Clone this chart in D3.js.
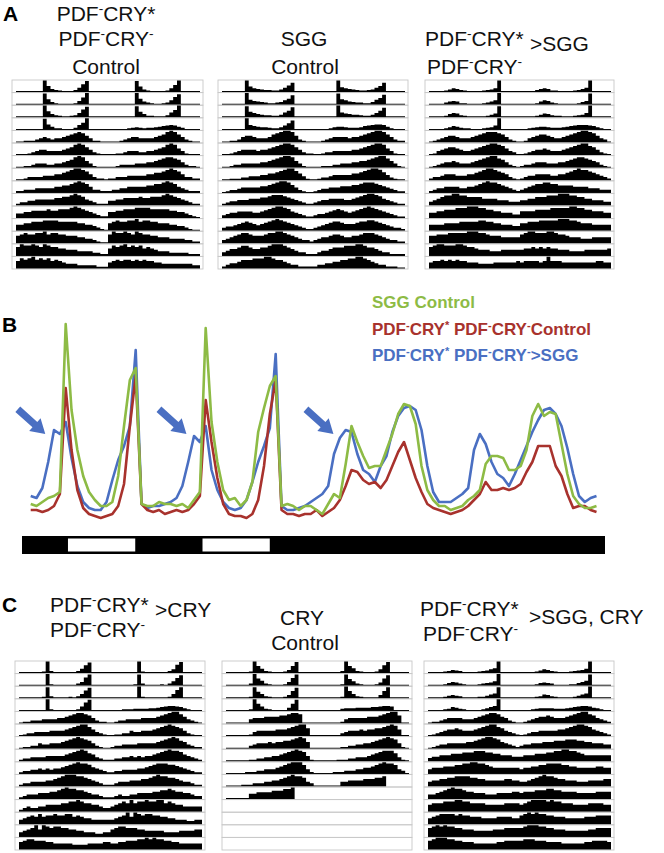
<!DOCTYPE html>
<html>
<head>
<meta charset="utf-8">
<script src="https://cdn.jsdelivr.net/npm/d3@7"></script>
<style>
  body { margin: 0; background: #fff; }
  svg { display: block; font-family: "Liberation Sans", Arial, sans-serif; }
</style>
</head>
<body>
<svg id="fig" width="664" height="853"></svg>
<script>
// ---- panel B: hourly activity (hours relative to lights-on of day 1) ----
const hours = d3.range(-6, 92);
const sggControl = [
  9, 8, 10, 12, 13, 15,
  99, 56, 36, 23, 15, 11, 8, 8, 10, 23, 48, 71, 77,
  9, 8, 8, 10, 9, 9, 8, 9, 7, 11, 15,
  97, 50, 30, 16, 11, 12, 8, 11, 20, 45, 57, 68, 73,
  8, 9, 8, 6, 8, 8, 6, 4, 9, 14, 12,
  29, 48, 40, 33, 27, 28, 28, 36, 44, 54, 59, 58, 49,
  28, 16, 11, 8, 8, 6, 7, 8, 11, 13, 16,
  29, 33, 33, 32, 26, 26, 28, 36, 53, 59, 53, 55, 54,
  39, 24, 13, 9, 7, 7, 8
];
const pdfControl = [
  6, 6, 5, 6, 8, 14,
  67, 36, 16, 7, 4, 3, 2, 3, 4, 8, 19, 48, 73,
  9, 6, 5, 6, 4, 5, 6, 5, 6, 9, 13,
  61, 40, 22, 9, 4, 3, 3, 2, 4, 11, 28, 54, 71,
  6, 4, 4, 3, 4, 4, 6, 3, 5, 7, 11,
  18, 26, 25, 21, 19, 20, 17, 21, 28, 35, 40, 31, 22,
  15, 9, 7, 6, 5, 4, 5, 6, 8, 11, 14,
  20, 16, 16, 17, 16, 17, 19, 25, 30, 38, 38, 38, 28,
  23, 14, 7, 8, 8, 6, 5
];
const pdfSgg = [
  13, 12, 17, 30, 46, 44,
  50, 32, 18, 10, 7, 6, 6, 10, 21, 31, 38, 48, 86,
  9, 7, 8, 8, 9, 10, 12, 18, 30, 43, 40,
  48, 26, 16, 10, 7, 6, 7, 11, 20, 30, 38, 47, 84,
  8, 6, 6, 7, 8, 10, 12, 14, 18, 34, 42,
  46, 45, 34, 26, 24, 20, 28, 33, 45, 53, 57, 58, 56,
  46, 28, 15, 10, 10, 10, 12, 14, 17, 36, 44,
  39, 30, 24, 22, 18, 24, 31, 38, 45, 51, 56, 57, 54,
  48, 37, 24, 13, 10, 12, 13
];
const arrowHours = [-3.5, 20.7, 45.9];
const arrowValues = [44, 44, 44];
const recording = [-8.2, 95.8];          // ZT hours covered by the LD bar
const lightPhases = [[0, 12], [24, 36]];   // lights on

// ---- actograms: one string per day, 24 hourly bins from ZT17, base-36 counts, '.' = no data ----
const a1Days = [
  "0001011ka53211137dj10010", "0010011j942111126ck01001", "0001001ka53211237di10100",
  "1000101j952211138ck01010", "001112343233456787531100", "000123443333456898642100",
  "001123332233456898531000", "001222233344567887642110", "112223333344556787642211",
  "122334444455667876432111", "334455556556667876543211", "445566677776666655443210",
  "567667786776655544332100", "687787687665544433332211", "576786767565433322222111",
  "456566565655443333333322"
];
const a2Days = [
  "000101k9654332247bg00100", "001000k8654322347ag01000", "000010j9754332248bh00010",
  "010001k8654432247bg00100", "001124554333467899852100", "001234444344567899864211",
  "001223333344567899853100", "001112233344556789975310", "012234444455678998642100",
  "123344455566788876543211", "234455554456789987543211", "233456765456789876543211",
  "234567765556778876543221", "234456654455677765432211", "123345556667765543221111",
  "122334455667765432211100"
];
const a3Days = [
  "000124653211112346k00000", "001135652211112357k00010", "000125763211111246j00000",
  "000124653221112347k00100", "012345543334567888764210", "013456654334567899875320",
  "012344543334567899764210", "122344433344567887654210", "123344443344567877654321",
  "234566776655554444333222", "334455566677766554433322", "444455556666677665544433",
  "556667777788877655544444", "678877788766544433344444", "455656565544433334444445",
  "455554585554444444445544"
];
const c1Days = [
  "0001012k311111137di01000", "0010011k211111136ej00100", "0001012j311112137di00010",
  "0100011k211111127ej01000", "011222333344567887642110", "012233334444567899753210",
  "011224334445678987642100", "122333344444567898653211", "122334343445678988754321",
  "122333344567888776543211", "123334445567877665433211", "123223344445566765544322",
  "345657566766775654433333", "345685876776655443332233", "567766655444443333444455",
  "445566677878776655444444"
];
const c2Days = [
  "0000012kc73211125cj00000", "0000013kc83211126dj00000", "0000002jb73211125ci00000",
  "0000012kc73211115cj00000", "000000344455556678870000", "000000134444455567899600",
  "000000234445455667898500", "000000112233445678987410", "000001112233345678886310",
  "000011122233445678776320", "000000334444555667......", "........................",
  "........................", "........................", "........................",
  "........................"
];
const c3Days = [
  "000123543111123468k00000", "001124653211123457k00000", "000124543111122468j00010",
  "000123653211112468k00000", "011234444333456788754210", "012345565444567899764321",
  "012334444455678998754321", "233444555666777665544433", "344455566778877654444444",
  "344556677776655444445544", "334567877655444333444455", "455566677665555444445555",
  "456777767665554444555544", "678787766555444445556666", "678887766555444444556666",
  "677766655554444445566665"
];

const GREEN = "#8dbb45", RED = "#a8322d", BLUE = "#4a6fc2";
const svg = d3.select("#fig");

// ---------- text helper: parts starting with '^' are superscripts ----------
function richText(g, x, y, parts, opts) {
  const size = opts.size;
  const t = g.append("text")
    .attr("x", x).attr("y", y)
    .attr("text-anchor", opts.anchor || "start")
    .attr("fill", opts.color || "#111")
    .style("font-size", size + "px")
    .style("font-weight", opts.bold ? "bold" : "normal");
  let up = false;
  parts.forEach(p => {
    const sup = p[0] === "^";
    const s = t.append("tspan").text(sup ? p.slice(1) : p);
    if (sup) {
      s.style("font-size", (size * 0.65) + "px");
      if (!up) { s.attr("dy", -size * 0.38); up = true; }
    } else if (up) {
      s.attr("dy", size * 0.38); up = false;
    }
  });
  return t;
}

// ---------- actograms ----------
const ROW_H = 12.6, N_ROWS = 15, PEAK_H = 11.3;
const actograms = [
  { days: a1Days, x0: 12, x1: 203, y0: 80 },
  { days: a2Days, x0: 218, x1: 408, y0: 80 },
  { days: a3Days, x0: 425, x1: 614, y0: 80 },
  { days: c1Days, x0: 15, x1: 205, y0: 661 },
  { days: c2Days, x0: 222, x1: 412, y0: 661 },
  { days: c3Days, x0: 424, x1: 614, y0: 661 }
];

actograms.forEach(box => {
  const g = svg.append("g");
  const parsed = box.days.map(s => s.padEnd(24, ".").slice(0, 24).split("")
    .map(c => c === "." ? null : parseInt(c, 36)));
  const x = d3.scaleLinear().domain([0, 48]).range([box.x0 + 4, box.x1 - 3]);

  for (let r = 0; r < N_ROWS; r++) {
    const top = box.y0 + r * ROW_H;
    const base = top + ROW_H - 0.9;
    g.append("rect")
      .attr("x", box.x0).attr("y", top)
      .attr("width", box.x1 - box.x0).attr("height", ROW_H)
      .attr("fill", "none").attr("stroke", "#c8c8c8").attr("stroke-width", 0.9);

    // double plot: day r on the left, day r+1 on the right
    const vals = parsed[r].concat(parsed[r + 1]);
    const max = d3.max(vals) || 1;
    const y = d3.scaleLinear().domain([0, max]).range([base, base - PEAK_H]);
    const pts = vals.flatMap((v, i) => [{ t: i, v }, { t: i + 1, v }]);
    const area = d3.area()
      .defined(d => d.v !== null)
      .x(d => x(d.t))
      .y0(base + 0.5)
      .y1(d => Math.min(y(d.v), base - 0.6));
    g.append("path").datum(pts).attr("d", area).attr("fill", "#000");
  }
});

// ---------- titles ----------
const T = 21;
const titles = [
  { x: 106, y: 21, a: "middle", p: ["PDF", "^-", "CRY*"] },
  { x: 106, y: 46, a: "middle", p: ["PDF", "^-", "CRY", "^-"] },
  { x: 106, y: 74, a: "middle", p: ["Control"] },
  { x: 304, y: 46, a: "middle", p: ["SGG"] },
  { x: 305, y: 74, a: "middle", p: ["Control"] },
  { x: 425, y: 46, a: "start", p: ["PDF", "^-", "CRY*"] },
  { x: 530, y: 51, a: "start", p: [">SGG"] },
  { x: 427, y: 74, a: "start", p: ["PDF", "^-", "CRY", "^-"] },
  { x: 50, y: 612, a: "start", p: ["PDF", "^-", "CRY*"] },
  { x: 155, y: 617, a: "start", p: [">CRY"] },
  { x: 50, y: 637, a: "start", p: ["PDF", "^-", "CRY", "^-"] },
  { x: 302, y: 625, a: "middle", p: ["CRY"] },
  { x: 305, y: 650, a: "middle", p: ["Control"] },
  { x: 420, y: 616, a: "start", p: ["PDF", "^-", "CRY*"] },
  { x: 529, y: 624, a: "start", p: [">SGG, CRY"] },
  { x: 423, y: 641, a: "start", p: ["PDF", "^-", "CRY", "^-"] }
];
const titleG = svg.append("g");
titles.forEach(d => richText(titleG, d.x, d.y, d.p, { size: T, anchor: d.a }));

// panel letters
[["A", 3, 21], ["B", 2, 332], ["C", 2, 612]].forEach(([l, x, y]) => {
  svg.append("text").attr("x", x).attr("y", y)
    .style("font-size", "21px").style("font-weight", "bold").text(l);
});

// ---------- panel B ----------
const lineX = d3.scaleLinear().domain([-6, 91]).range([30.7, 596.5]);
const lineY = d3.scaleLinear().domain([0, 100]).range([522, 322]);
const line = d3.line().x(d => lineX(d.t)).y(d => lineY(d.v));

const series = [
  { values: pdfSgg, color: BLUE },
  { values: pdfControl, color: RED },
  { values: sggControl, color: GREEN }
];
const gB = svg.append("g");
series.forEach(s => {
  gB.append("path")
    .datum(hours.map((t, i) => ({ t, v: s.values[i] })))
    .attr("d", line)
    .attr("fill", "none")
    .attr("stroke", s.color)
    .attr("stroke-width", 2.6)
    .attr("stroke-linejoin", "round");
});

// arrows pointing at the anticipation bumps
arrowHours.forEach((h, i) => {
  gB.append("path")
    .attr("d", "M0,0 L-14,-8.5 L-14,-3.6 L-37,-3.6 L-37,3.6 L-14,3.6 L-14,8.5 Z")
    .attr("fill", BLUE)
    .attr("transform", `translate(${lineX(h)},${lineY(arrowValues[i])}) rotate(42)`);
});

// legend
const legend = [
  { y: 308, color: GREEN, p: ["SGG Control"] },
  { y: 335, color: RED, p: ["PDF", "^-", "CRY", "^*", " PDF", "^-", "CRY", "^-", "Control"] },
  { y: 361, color: BLUE, p: ["PDF", "^-", "CRY", "^*", " PDF", "^-", "CRY", "^-", ">SGG"] }
];
legend.forEach(d => richText(gB, 372, d.y, d.p, { size: 17, bold: true, color: d.color }));

// LD bar
const barX = d3.scaleLinear().domain(recording).range([22, 605]);
gB.append("rect")
  .attr("x", barX(recording[0])).attr("y", 536)
  .attr("width", barX(recording[1]) - barX(recording[0])).attr("height", 18)
  .attr("fill", "#000");
gB.selectAll("rect.light").data(lightPhases).enter().append("rect")
  .attr("class", "light")
  .attr("x", d => barX(d[0])).attr("y", 538.5)
  .attr("width", d => barX(d[1]) - barX(d[0])).attr("height", 13)
  .attr("fill", "#fff");
</script>
</body>
</html>
